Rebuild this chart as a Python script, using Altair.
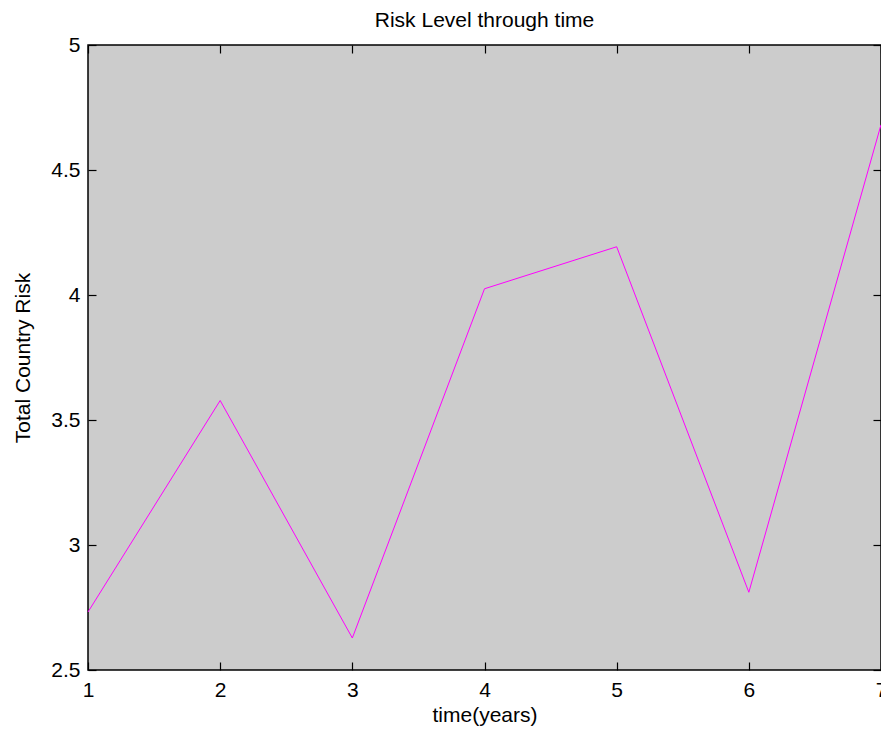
import altair as alt
import pandas as pd

years = [1, 2, 3, 4, 5, 6, 7]
risk = [2.732, 3.578, 2.628, 4.025, 4.193, 2.811, 4.681]
x_ticks = [1, 2, 3, 4, 5, 6, 7]
y_ticks = [2.5, 3, 3.5, 4, 4.5, 5]

W, H, TICK = 793, 625, 8

df = pd.DataFrame({"year": years, "risk": risk})

FONT = "Liberation Sans"
FS = 21
xs = alt.Scale(domain=[1, 7], nice=False, zero=False)
ys = alt.Scale(domain=[2.5, 5], nice=False, zero=False)

base = alt.Chart(df)

main = base.mark_line(color="#ff00ff", strokeWidth=1).encode(
    x=alt.X("year:Q", scale=xs, axis=alt.Axis(
        orient="bottom", values=x_ticks, ticks=False, domain=False, grid=False, format="~g",
        title="time(years)", labelPadding=9, labelFontSize=FS, labelFont=FONT,
        labelColor="black", titleFont=FONT, titleFontSize=FS, titleFontWeight="normal",
        titleColor="black", titlePadding=4, labelFlush=False, labelOverlap=False)),
    y=alt.Y("risk:Q", scale=ys, axis=alt.Axis(
        orient="left", values=y_ticks, ticks=False, domain=False, grid=False, format="~g",
        title="Total Country Risk", labelPadding=8, labelFontSize=FS, labelFont=FONT,
        labelColor="black", titleFont=FONT, titleFontSize=FS, titleFontWeight="normal",
        titleColor="black", titlePadding=17, labelFlush=False, labelOverlap=False)),
)

def tick_axis(orient, vals):
    return alt.Axis(orient=orient, values=vals, ticks=True, tickSize=TICK, tickColor="black",
                    tickWidth=1.2, offset=-TICK, labels=False, domain=False, grid=False,
                    title=None)

inner1 = base.mark_line(strokeOpacity=0).encode(
    x=alt.X("year:Q", scale=xs, axis=tick_axis("bottom", x_ticks)),
    y=alt.Y("risk:Q", scale=ys, axis=tick_axis("left", y_ticks)),
)
inner2 = base.mark_line(strokeOpacity=0).encode(
    x=alt.X("year:Q", scale=xs, axis=tick_axis("top", x_ticks)),
    y=alt.Y("risk:Q", scale=ys, axis=tick_axis("right", y_ticks)),
)

chart = alt.layer(main, inner1, inner2).resolve_axis(x="independent", y="independent").properties(
    width=W, height=H,
    title=alt.Title("Risk Level through time", font=FONT, fontSize=FS, fontWeight="normal",
                    color="black", offset=3),
    autosize=alt.AutoSizeParams(type="none"),
    padding={"left": 80, "top": 37, "right": 0, "bottom": 60},
    background="white",
).configure_view(fill="#cccccc", stroke="black", strokeWidth=1.5)

chart.save("out.html", embed_options={"renderer": "svg", "actions": False})
